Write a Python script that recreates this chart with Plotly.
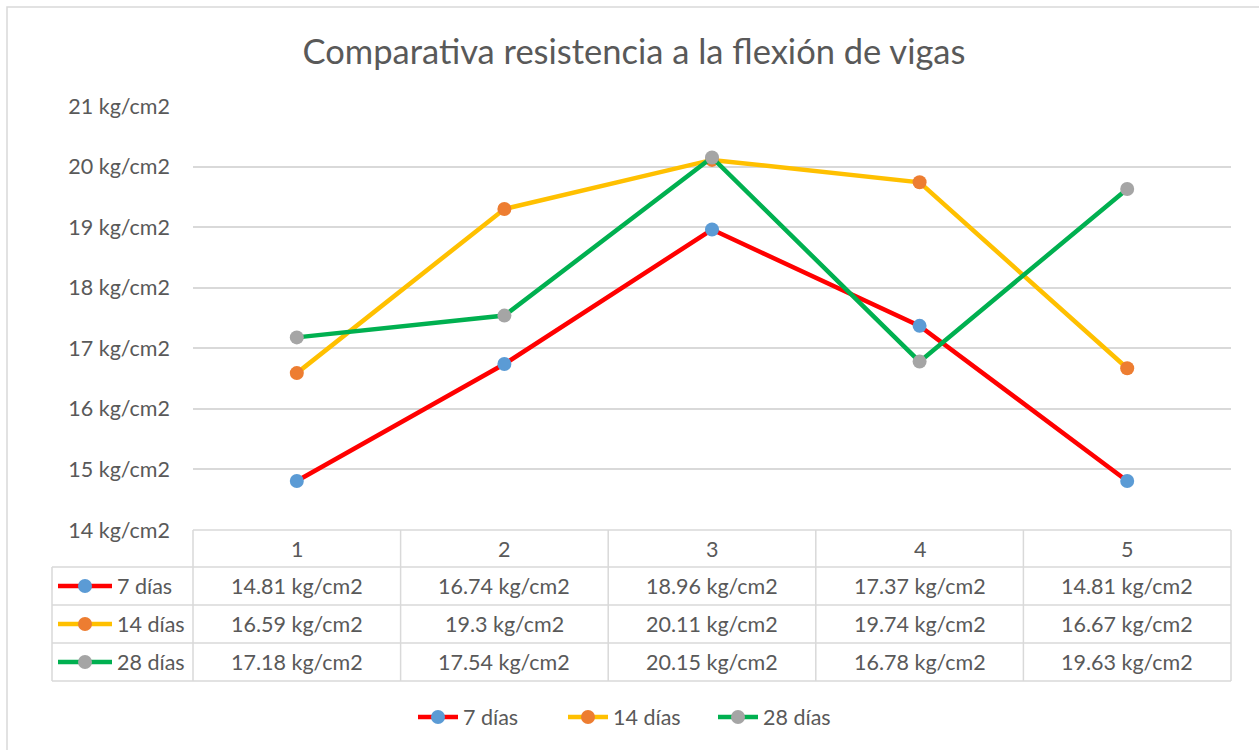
import plotly.graph_objects as go

categories = [1, 2, 3, 4, 5]
series_names = ["7 días", "14 días", "28 días"]
dias7 = [14.81, 16.74, 18.96, 17.37, 14.81]
dias14 = [16.59, 19.3, 20.11, 19.74, 16.67]
dias28 = [17.18, 17.54, 20.15, 16.78, 19.63]
y_ticks = [14, 15, 16, 17, 18, 19, 20, 21]
unit = "kg/cm2"

series_values = [dias7, dias14, dias28]
line_colors = ["#FF0000", "#FFC000", "#00B050"]
marker_colors = ["#5B9BD5", "#ED7D31", "#A5A5A5"]

W, H = 1259, 750
L, R, T, B = 193, 1231, 106, 530
TXT = "#595959"
GRID = "#D9D9D9"
FONT = "Lato"
FS = 21.5


def px2x(px):
    return (px - L) / (R - L)


def py2y(py):
    return (B - py) / (B - T)


fig = go.Figure()
for name, vals, lc, mc in zip(series_names, series_values, line_colors, marker_colors):
    fig.add_trace(go.Scatter(
        x=categories, y=vals, name=name, mode="lines+markers",
        line=dict(color=lc, width=4.5),
        marker=dict(color=mc, size=14, line=dict(width=0)),
    ))

shapes = []
shapes.append(dict(type="rect", xref="paper", yref="paper",
                   x0=px2x(7), x1=px2x(1300), y0=py2y(800), y1=py2y(7),
                   line=dict(color=GRID, width=1.5), layer="below"))

row_px = [530, 567, 605, 643, 681]
col_px = [L + i * (R - L) / 5 for i in range(6)]
shapes.append(dict(type="line", xref="paper", yref="paper",
                   x0=px2x(L), x1=px2x(R), y0=py2y(530), y1=py2y(530),
                   line=dict(color=GRID, width=1.5)))
for rp in row_px[1:]:
    shapes.append(dict(type="line", xref="paper", yref="paper",
                       x0=px2x(52), x1=px2x(R), y0=py2y(rp), y1=py2y(rp),
                       line=dict(color=GRID, width=1.5)))
for cp in col_px:
    shapes.append(dict(type="line", xref="paper", yref="paper",
                       x0=px2x(cp), x1=px2x(cp), y0=py2y(530), y1=py2y(681),
                       line=dict(color=GRID, width=1.5)))
shapes.append(dict(type="line", xref="paper", yref="paper",
                   x0=px2x(52), x1=px2x(52), y0=py2y(567), y1=py2y(681),
                   line=dict(color=GRID, width=1.5)))

annotations = []
for c in categories:
    annotations.append(dict(x=c, xref="x", y=py2y(548.5), yref="paper",
                            xanchor="center", yanchor="middle",
                            text=str(c), showarrow=False,
                            font=dict(family=FONT, size=FS, color=TXT)))
for i, (name, vals, lc, mc) in enumerate(zip(series_names, series_values, line_colors, marker_colors)):
    cy = (row_px[i + 1] + row_px[i + 2]) / 2
    for c, v in zip(categories, vals):
        annotations.append(dict(x=c, xref="x", y=py2y(cy), yref="paper",
                                xanchor="center", yanchor="middle",
                                text=f"{v} {unit}", showarrow=False,
                                font=dict(family=FONT, size=FS, color=TXT)))
    shapes.append(dict(type="line", xref="paper", yref="paper",
                       x0=px2x(58), x1=px2x(112), y0=py2y(cy), y1=py2y(cy),
                       line=dict(color=lc, width=4.5)))
    shapes.append(dict(type="circle", xref="paper", yref="paper",
                       xsizemode="pixel", ysizemode="pixel",
                       xanchor=px2x(85), yanchor=py2y(cy),
                       x0=-7, x1=7, y0=-7, y1=7,
                       fillcolor=mc, line=dict(width=0)))
    annotations.append(dict(x=px2x(115), xref="paper", y=py2y(cy), yref="paper",
                            text=name, showarrow=False, xanchor="left", yanchor="middle",
                            font=dict(family=FONT, size=FS, color=TXT)))

fig.update_layout(
    width=W, height=H,
    margin=dict(l=L, r=W - R, t=T, b=H - B),
    paper_bgcolor="white", plot_bgcolor="white",
    title=dict(text="Comparativa resistencia a la flexión de vigas",
               x=634 / W, xanchor="center", xref="container",
               y=1 - 52 / H, yanchor="middle", yref="container",
               font=dict(family=FONT, size=34.5, color=TXT)),
    xaxis=dict(range=[0.5, 5.5], showgrid=False, showticklabels=False,
               zeroline=False, showline=False, fixedrange=True),
    yaxis=dict(range=[14, 21], tickvals=y_ticks,
               ticktext=[f"{t} {unit}" for t in y_ticks],
               showgrid=True, gridcolor=GRID, gridwidth=1.5,
               zeroline=False, showline=False, ticks="",
               ticklabelstandoff=22,
               tickfont=dict(family=FONT, size=FS, color=TXT)),
    showlegend=True,
    legend=dict(orientation="h", x=px2x(638), xanchor="center",
                y=py2y(717), yanchor="middle",
                font=dict(family=FONT, size=FS, color=TXT),
                itemwidth=40, tracegroupgap=0, entrywidth=95),
    shapes=shapes, annotations=annotations,
)

fig.write_html("out.html", config={"displayModeBar": False},
               post_script="document.body.style.margin='0';document.body.style.padding='0';")
